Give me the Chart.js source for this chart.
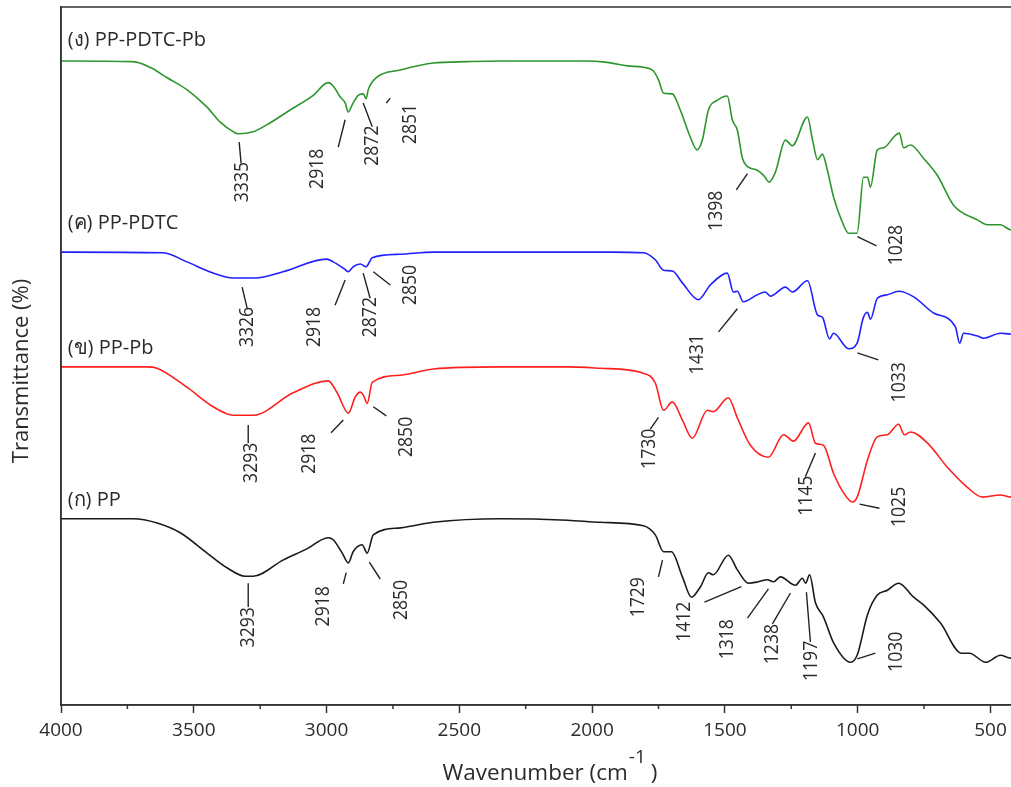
<!DOCTYPE html>
<html>
<head>
<meta charset="utf-8">
<script src="https://cdn.jsdelivr.net/npm/chart.js"></script>
<style>
  html, body { margin: 0; padding: 0; background: #fff; overflow: hidden; }
  #wrap { width: 1024px; height: 787px; }
</style>
</head>
<body>
<div id="wrap"><canvas id="ftir" width="1024" height="787"></canvas></div>
<script>
// ---- data: [wavenumber cm-1, stacked transmittance] ----
const majorTicks = [4000, 3500, 3000, 2500, 2000, 1500, 1000, 500];
const minorTicks = [3750, 3250, 2750, 2250, 1750, 1250, 750];
const seriesNames = ["(ก) PP", "(ข) PP-Pb", "(ค) PP-PDTC", "(ง) PP-PDTC-Pb"];

const pp = [[4000,26.6],[3729,26.6],[3638,26.0],[3551,24.6],[3450,21.7],[3375,19.6],[3307,18.4],[3276,18.4],[3164,20.7],[3074,22.3],[2994,23.9],[2975,23.6],[2941,21.7],[2918,20.3],[2900,21.9],[2866,22.9],[2847,21.7],[2824,24.3],[2722,25.3],[2598,26.1],[2346,26.6],[2093,26.4],[1969,26.1],[1807,25.6],[1762,24.3],[1731,21.9],[1701,21.9],[1660,18.3],[1626,15.4],[1592,16.9],[1562,18.9],[1544,18.6],[1487,21.4],[1453,19.3],[1411,17.4],[1374,17.6],[1340,17.9],[1317,17.6],[1291,18.3],[1234,17.1],[1208,18.1],[1196,17.4],[1181,18.6],[1159,14.6],[1129,12.6],[1091,8.9],[1027,6.1],[1002,7.1],[963,12.9],[926,15.7],[888,16.4],[846,17.4],[789,15.4],[752,14.3],[688,11.7],[609,7.4],[579,7.4],[518,6.1],[462,7.1],[424,6.7],[400,6.9]];

const ppPb = [[4000,48.3],[3676,48.3],[3638,48.1],[3526,45.4],[3427,42.6],[3352,41.4],[3276,41.4],[3126,44.6],[2994,46.3],[2960,44.6],[2918,41.7],[2892,44.0],[2873,44.7],[2862,44.3],[2847,43.1],[2828,46.1],[2722,47.1],[2598,48.0],[2346,48.3],[2093,48.3],[1969,48.1],[1807,47.4],[1762,46.0],[1731,42.1],[1698,43.3],[1660,40.7],[1623,38.1],[1566,42.1],[1544,41.9],[1487,43.9],[1453,41.0],[1404,37.1],[1336,35.4],[1279,38.6],[1242,37.7],[1185,40.3],[1159,37.4],[1129,37.1],[1091,33.1],[1053,30.3],[1020,29.0],[1002,29.7],[963,35.0],[926,38.3],[888,38.6],[846,40.1],[824,38.6],[801,39.0],[737,37.4],[663,34.0],[587,31.1],[530,29.7],[462,30.0],[424,29.7],[400,29.8]];

const ppPdtc = [[4000,64.7],[3615,64.6],[3526,63.3],[3427,61.7],[3352,61.0],[3269,61.0],[3164,61.9],[3000,63.7],[2975,63.3],[2937,62.4],[2918,61.9],[2900,62.6],[2873,63.0],[2851,62.6],[2828,63.9],[2722,64.4],[2598,64.7],[2346,64.7],[1931,64.7],[1807,64.6],[1762,63.6],[1731,62.1],[1698,62.0],[1660,60.3],[1600,57.9],[1555,60.0],[1491,61.7],[1468,59.0],[1453,59.1],[1431,57.6],[1378,58.6],[1348,59.0],[1329,58.4],[1272,59.7],[1246,59.0],[1189,60.6],[1151,55.7],[1133,55.4],[1106,52.3],[1091,53.1],[1034,50.9],[1002,51.7],[979,55.3],[963,56.1],[952,55.1],[926,58.1],[888,58.6],[846,59.1],[789,58.3],[714,56.0],[632,54.0],[616,51.7],[601,53.1],[549,52.7],[526,52.4],[462,53.1],[424,53.0],[400,53.0]];

const ppPdtcPb = [[4000,92.0],[3729,91.9],[3665,91.1],[3600,89.6],[3526,87.9],[3450,85.4],[3401,83.3],[3352,81.9],[3333,81.6],[3276,81.9],[3224,82.9],[3137,85.0],[3050,87.1],[2994,88.9],[2979,88.6],[2949,86.9],[2930,86.0],[2918,84.7],[2904,85.7],[2881,87.1],[2862,87.3],[2851,86.6],[2843,87.9],[2810,89.7],[2722,90.7],[2598,91.7],[2470,91.9],[2346,92.0],[2033,92.0],[1943,91.8],[1867,91.3],[1807,91.1],[1770,90.6],[1750,89.3],[1731,87.4],[1698,87.3],[1668,85.0],[1630,81.1],[1605,79.3],[1585,80.7],[1562,85.0],[1528,86.4],[1491,87.0],[1472,83.6],[1453,82.1],[1434,78.1],[1415,76.9],[1378,76.4],[1355,75.7],[1333,74.7],[1310,76.1],[1272,80.7],[1246,79.9],[1189,84.0],[1170,80.7],[1151,77.9],[1133,78.7],[1114,76.4],[1091,72.6],[1058,69.0],[1034,67.4],[1002,67.4],[978,75.4],[963,75.4],[952,74.0],[926,79.3],[902,79.6],[857,81.4],[843,81.7],[827,79.6],[801,80.0],[752,78.1],[699,75.6],[639,71.4],[549,69.3],[511,68.6],[462,68.6],[424,67.9],[400,68.0]];

// peak labels: text, centre of text, leader line (all in axis units)
const notes = [
  { t: "3335", at: [3322, 74.7], lead: [[3329, 80.4], [3322, 77.4]] },
  { t: "2918", at: [3039, 76.6], lead: [[2930, 83.6], [2956, 79.7]] },
  { t: "2872", at: [2832, 79.9], lead: [[2862, 86.0], [2828, 82.6]] },
  { t: "2851", at: [2689, 83.0], lead: [[2775, 86.0], [2760, 86.7]] },
  { t: "1398", at: [1536, 70.6], lead: [[1415, 75.9], [1457, 73.6]] },
  { t: "1028", at: [857, 65.7], lead: [[1001, 66.9], [929, 65.6]] },
  { t: "3326", at: [3303, 54.0], lead: [[3318, 59.7], [3299, 56.7]] },
  { t: "2918", at: [3050, 54.0], lead: [[2930, 60.7], [2968, 57.1]] },
  { t: "2872", at: [2839, 55.4], lead: [[2862, 61.7], [2836, 58.1]] },
  { t: "2850", at: [2689, 60.0], lead: [[2824, 61.9], [2760, 60.0]] },
  { t: "1431", at: [1607, 50.1], lead: [[1453, 56.6], [1524, 53.3]] },
  { t: "1033", at: [846, 46.1], lead: [[1001, 50.3], [922, 49.3]] },
  { t: "3293", at: [3288, 34.6], lead: [[3295, 40.0], [3295, 37.4]] },
  { t: "2918", at: [3069, 35.9], lead: [[2937, 40.7], [2983, 38.9]] },
  { t: "2850", at: [2704, 38.3], lead: [[2824, 42.6], [2775, 41.3]] },
  { t: "1730", at: [1788, 36.6], lead: [[1750, 41.1], [1781, 39.4]] },
  { t: "1145", at: [1197, 29.9], lead: [[1159, 36.0], [1197, 32.6]] },
  { t: "1025", at: [846, 28.3], lead: [[993, 28.7], [918, 28.1]] },
  { t: "3293", at: [3299, 11.1], lead: [[3295, 17.4], [3295, 14.0]] },
  { t: "2918", at: [3017, 14.1], lead: [[2926, 18.9], [2937, 17.3]] },
  { t: "2850", at: [2723, 15.0], lead: [[2839, 20.4], [2798, 18.0]] },
  { t: "1729", at: [1830, 15.4], lead: [[1735, 20.7], [1750, 18.3]] },
  { t: "1412", at: [1656, 11.9], lead: [[1577, 14.7], [1438, 16.9]] },
  { t: "1318", at: [1494, 9.4], lead: [[1415, 12.4], [1336, 16.6]] },
  { t: "1238", at: [1325, 8.7], lead: [[1321, 11.6], [1253, 16.0]] },
  { t: "1197", at: [1178, 6.3], lead: [[1193, 16.1], [1178, 9.0]] },
  { t: "1030", at: [857, 7.6], lead: [[1001, 6.6], [933, 7.4]] }
];

// where each spectrum name sits (left end of text baseline)
const namePos = [[3975, 28.4], [3975, 50.1], [3975, 68.0], [3975, 94.1]];

const FONT = "'Open Sans', 'Noto Sans', 'DejaVu Sans', sans-serif";
const INK = "#2b2b2b";

const toXY = arr => arr.map(p => ({ x: p[0], y: p[1] }));

const decor = {
  id: "decor",
  afterDraw(chart) {
    const { ctx, chartArea: a, scales: { x, y } } = chart;
    const px = v => x.getPixelForValue(v);
    const py = v => y.getPixelForValue(v);
    ctx.save();

    // frame
    ctx.strokeStyle = "#333";
    ctx.lineWidth = 1.5;
    ctx.strokeRect(a.left, a.top, a.right - a.left, a.bottom - a.top);

    // minor ticks
    ctx.beginPath();
    minorTicks.forEach(v => {
      ctx.moveTo(px(v), a.bottom);
      ctx.lineTo(px(v), a.bottom + 4);
    });
    ctx.stroke();

    // spectrum names
    ctx.fillStyle = INK;
    ctx.font = "20px " + FONT;
    ctx.textAlign = "left";
    ctx.textBaseline = "alphabetic";
    seriesNames.forEach((n, i) => ctx.fillText(n, px(namePos[i][0]), py(namePos[i][1])));

    // peak labels
    ctx.strokeStyle = "#222";
    ctx.lineWidth = 1.4;
    ctx.font = "20px " + FONT;
    ctx.textAlign = "center";
    ctx.textBaseline = "middle";
    notes.forEach(n => {
      ctx.beginPath();
      n.lead.forEach((p, i) => i ? ctx.lineTo(px(p[0]), py(p[1])) : ctx.moveTo(px(p[0]), py(p[1])));
      ctx.stroke();
      ctx.save();
      ctx.translate(px(n.at[0]), py(n.at[1]));
      ctx.rotate(-Math.PI / 2);
      ctx.scale(0.88, 1);
      ctx.fillText(n.t, 0, 1);
      ctx.restore();
    });

    // y axis title
    ctx.save();
    ctx.font = "22px " + FONT;
    ctx.translate(22, 371);
    ctx.rotate(-Math.PI / 2);
    ctx.fillText("Transmittance (%)", 0, 0);
    ctx.restore();

    // x axis title with superscript
    ctx.textAlign = "left";
    ctx.textBaseline = "alphabetic";
    ctx.font = "22.5px " + FONT;
    const main = "Wavenumber (cm";
    const wMain = ctx.measureText(main).width;
    ctx.font = "19px " + FONT;
    const wSup = ctx.measureText("-1").width;
    ctx.font = "22.5px " + FONT;
    const wEnd = ctx.measureText(")").width;
    const tx = 550 - (wMain + wSup + wEnd + 6) / 2;
    const base = a.bottom + 75;
    ctx.fillText(main, tx, base);
    ctx.font = "19px " + FONT;
    ctx.fillText("-1", tx + wMain + 1, base - 17);
    ctx.font = "22.5px " + FONT;
    ctx.fillText(")", tx + wMain + wSup + 6, base);
    ctx.restore();
  }
};

const ds = (label, arr, color) => ({
  label, data: toXY(arr), borderColor: color, borderWidth: 1.6,
  pointRadius: 0, cubicInterpolationMode: "monotone", fill: false
});

new Chart(document.getElementById("ftir"), {
  type: "line",
  data: {
    datasets: [
      ds(seriesNames[3], ppPdtcPb, "#2c962c"),
      ds(seriesNames[2], ppPdtc, "#1f1fff"),
      ds(seriesNames[1], ppPb, "#ff1f1f"),
      ds(seriesNames[0], pp, "#1a1a1a")
    ]
  },
  options: {
    responsive: false,
    animation: false,
    devicePixelRatio: 1,
    layout: { padding: { top: 7, right: 7, left: 0, bottom: 0 } },
    plugins: { legend: { display: false }, tooltip: { enabled: false } },
    scales: {
      x: {
        type: "linear",
        reverse: true,
        min: 400,
        max: 4000,
        afterFit: s => { s.height = 82; },
        afterBuildTicks: s => { s.ticks = majorTicks.map(v => ({ value: v })); },
        ticks: {
          color: INK,
          font: { family: FONT, size: 19 },
          padding: 6,
          maxRotation: 0,
          autoSkip: false,
          callback: v => String(v)
        },
        grid: { display: true, drawOnChartArea: false, tickLength: 8, tickColor: "#333", tickWidth: 1.5 },
        border: { display: true, color: "#333", width: 1.5 }
      },
      y: {
        min: 0,
        max: 99.71,
        afterFit: s => { s.width = 61; },
        ticks: { display: false },
        grid: { display: false },
        border: { display: true, color: "#333", width: 1.5 }
      }
    }
  },
  plugins: [decor]
});
</script>
</body>
</html>
